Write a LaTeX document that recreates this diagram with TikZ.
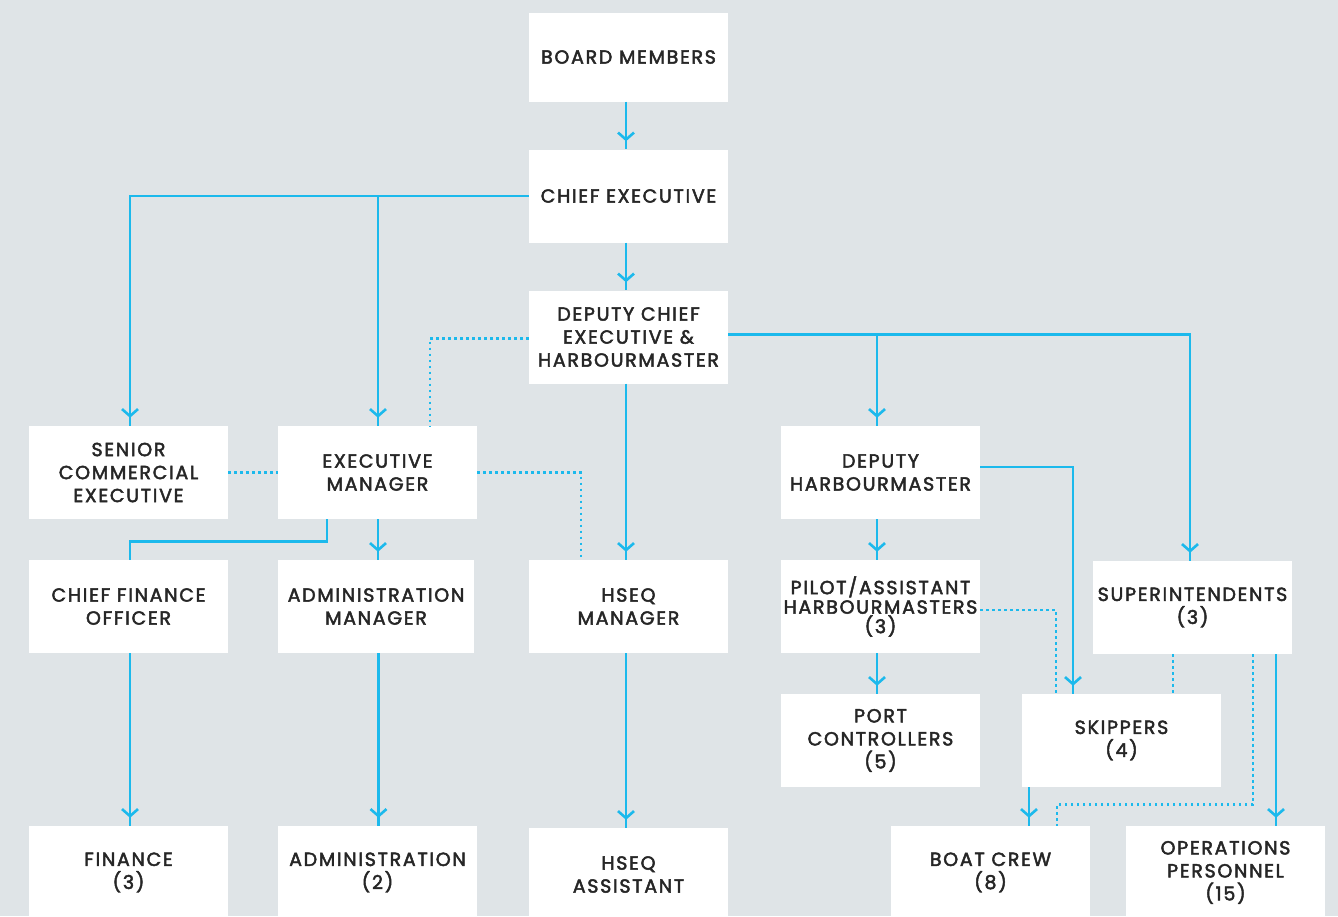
\documentclass[tikz,border=0pt]{standalone}
\usepackage{fontspec}
\setmainfont{Poppins}[FakeBold=2.4, LetterSpace=9]
\usetikzlibrary{arrows.meta,decorations.markings}
\definecolor{bgc}{HTML}{DFE4E7}
\definecolor{lnc}{HTML}{1CB9EC}
\definecolor{txc}{HTML}{262626}
\tikzset{
  box/.style={fill=white, draw=none, inner sep=0pt, minimum width=199pt, minimum height=93pt,
    align=center, text=txc, font=\fontsize{19}{23}\selectfont},
  conn/.style={draw=lnc, line width=2.6pt},
  dotl/.style={draw=lnc, line width=2.6pt, dash pattern=on 2.5pt off 3.5pt},
  arr/.style={conn, postaction={decorate, decoration={markings,
     mark=at position -8pt with {\arrow{Straight Barb[length=7pt,width=16pt,line width=2.6pt]}}}}}
}
\begin{document}
\begin{tikzpicture}[x=1pt,y=-1pt]
\useasboundingbox (0,0) rectangle (1338,916);
\clip (0,0) rectangle (1338,916);
\fill[bgc] (0,0) rectangle (1338,916);

\node[box, minimum height=89pt] (board) at (628.5,57) {BOARD MEMBERS};
\node[box] (chief) at (628.5,196) {CHIEF EXECUTIVE};
\node[box] (deputy) at (628.5,337) {DEPUTY CHIEF\\EXECUTIVE \&\\HARBOURMASTER};
\node[box] (senior) at (128.5,472.5) {SENIOR\\COMMERCIAL\\EXECUTIVE};
\node[box] (execm) at (377.5,472.5) {EXECUTIVE\\MANAGER};
\node[box] (dharb) at (880.5,472.5) {DEPUTY\\HARBOURMASTER};
\node[box] (cfo) at (128.5,606.5) {CHIEF FINANCE\\OFFICER};
\node[box, minimum width=196pt] (adminm) at (376,606.5) {ADMINISTRATION\\MANAGER};
\node[box] (hseqm) at (628.5,606.5) {HSEQ\\MANAGER};
\node[box, font=\fontsize{19}{19.5}\selectfont] (pilot) at (880.5,606.5) {PILOT/ASSISTANT\\HARBOURMASTERS\\(3)};
\node[box] (super) at (1192.5,607.5) {SUPERINTENDENTS\\(3)};
\node[box] (port) at (880.5,740.5) {PORT\\CONTROLLERS\\(5)};
\node[box] (skip) at (1121.5,740.5) {SKIPPERS\\(4)};
\node[box] (fin) at (128.5,872.5) {FINANCE\\(3)};
\node[box] (admin) at (377.5,872.5) {ADMINISTRATION\\(2)};
\node[box] (hseqa) at (628.5,874.5) {HSEQ\\ASSISTANT};
\node[box] (boat) at (990.5,872.5) {BOAT CREW\\(8)};
\node[box] (ops) at (1225.5,872.5) {OPERATIONS\\PERSONNEL\\(15)};

% solid connectors
\draw[arr] ([xshift=-2.5pt]board.south) -- ([xshift=-2.5pt]chief.north);
\draw[arr] ([xshift=-2.5pt]chief.south) -- ([xshift=-2.5pt]deputy.north);
\draw[arr] (chief.west) -| ([xshift=1.5pt]senior.north);
\draw[arr] ([xshift=0.5pt]execm.north |- chief.west) -- ([xshift=0.5pt]execm.north);
\draw[arr] ([xshift=-2.5pt]deputy.south) -- ([xshift=-2.5pt]hseqm.north);
\draw[arr] ([yshift=2.5pt]deputy.east) -| ([xshift=-2.5pt]super.north);
\draw[arr] ([xshift=-3.5pt,yshift=2.5pt]dharb.north |- deputy.east) -- ([xshift=-3.5pt]dharb.north);
\draw[conn] ([xshift=-50.5pt]execm.south) -- ++(0,22) -| ([xshift=1.5pt]cfo.north);
\draw[arr] ([xshift=0.5pt]execm.south) -- ([xshift=0.5pt]execm.south |- adminm.north);
\draw[arr] ([xshift=1.5pt]cfo.south) -- ([xshift=1.5pt]fin.north);
\draw[arr] ([xshift=2.5pt]adminm.south) -- ([xshift=2.5pt]adminm.south |- admin.north);
\draw[arr] ([xshift=-2.5pt]hseqm.south) -- ([xshift=-2.5pt]hseqa.north);
\draw[arr] ([xshift=-3.5pt]dharb.south) -- ([xshift=-3.5pt]pilot.north);
\draw[arr] ([xshift=-3.5pt]pilot.south) -- ([xshift=-3.5pt]port.north);
\draw[arr] ([yshift=5.5pt]dharb.east) -| ([xshift=-48.5pt]skip.north);
\draw[arr] ([xshift=83.5pt]super.south) -- ([xshift=83.5pt]super.south |- ops.north);
\draw[arr] ([xshift=-92.5pt]skip.south) -- ([xshift=-92.5pt]skip.south |- boat.north);

% dotted connectors
\draw[dotl] ([yshift=-1.5pt]deputy.west) -| ([xshift=52.5pt]execm.north);
\draw[dotl] (senior.east) -- (execm.west);
\draw[dotl] (execm.east) -| ([xshift=-47.5pt]hseqm.north);
\draw[dotl] ([yshift=-3.5pt]pilot.east) -| ([xshift=-65.5pt]skip.north);
\draw[dotl] ([xshift=-19.5pt]super.south) -- ([xshift=-19.5pt]super.south |- skip.north);
\draw[dotl] ([xshift=60.5pt]super.south) -- ++(0,150) -| ([xshift=66.5pt]boat.north);
\end{tikzpicture}
\end{document}
